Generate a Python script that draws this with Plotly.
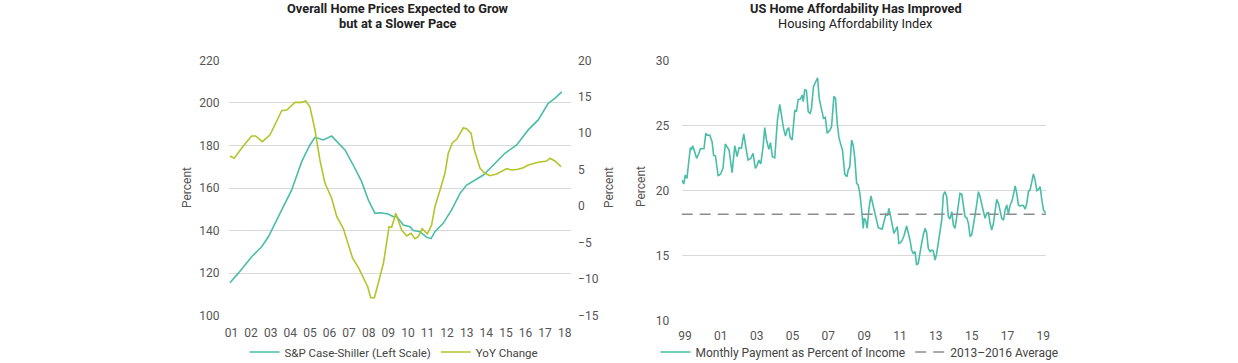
import plotly.graph_objects as go

# ---------------- Left chart data ----------------
sp_years = [2000.92, 2001.35, 2002.03, 2002.54, 2002.88, 2003.3, 2004.07, 2004.58, 2005.0, 2005.26,
            2005.68, 2006.11, 2006.54, 2006.79, 2007.21, 2007.64, 2007.98, 2008.32, 2008.58, 2009.0,
            2009.26, 2009.43, 2009.77, 2010.1, 2010.28, 2010.62, 2010.96, 2011.18, 2011.38, 2011.8,
            2012.23, 2012.66, 2013.0, 2013.42, 2013.85, 2014.36, 2014.95, 2015.55, 2016.14, 2016.65,
            2017.16, 2017.5, 2017.85]
sp_values = [115.5, 120.0, 127.7, 132.4, 137.1, 145.0, 159.1, 172.4, 180.2, 183.8,
             182.6, 184.4, 180.2, 177.9, 170.8, 163.0, 154.4, 148.1, 148.4, 147.8,
             146.5, 146.5, 142.6, 141.8, 140.0, 139.5, 136.8, 136.2, 139.5, 143.4,
             149.7, 157.5, 161.4, 163.8, 166.1, 170.8, 176.3, 180.2, 187.3, 192.0,
             199.8, 202.1, 205.2]

yoy_years = [2000.92, 2001.14, 2001.6, 2002.03, 2002.23, 2002.57, 2002.96, 2003.3, 2003.56, 2003.82,
             2004.24, 2004.58, 2004.79, 2005.0, 2005.26, 2005.51, 2005.77, 2006.11, 2006.37, 2006.7,
             2006.88, 2007.18, 2007.47, 2007.72, 2007.95, 2008.1, 2008.29, 2008.53, 2008.75, 2009.04,
             2009.17, 2009.38, 2009.68, 2009.94, 2010.16, 2010.36, 2010.53, 2010.73, 2010.99, 2011.21,
             2011.38, 2011.64, 2011.89, 2012.06, 2012.27, 2012.49, 2012.83, 2013.0, 2013.22, 2013.39,
             2013.68, 2013.93, 2014.19, 2014.53, 2015.04, 2015.3, 2015.63, 2015.89, 2016.14, 2016.65,
             2017.08, 2017.25, 2017.5, 2017.81]
yoy_values = [6.89, 6.57, 8.26, 9.63, 9.63, 8.85, 9.76, 11.59, 13.09, 13.19,
              14.24, 14.24, 14.42, 13.64, 10.45, 6.34, 3.14, 1.09, -1.43, -3.02,
              -4.63, -7.13, -8.37, -9.65, -11.03, -12.53, -12.53, -10.1, -7.82, -2.8,
              -2.89, -0.97, -3.26, -4.08, -3.71, -4.45, -4.17, -3.08, -3.8, -2.57,
              -0.06, 2.23, 4.51, 7.26, 8.71, 9.17, 10.76, 10.59, 10.0, 7.71,
              5.2, 4.51, 4.19, 4.42, 5.15, 4.97, 5.06, 5.28, 5.65, 6.02,
              6.2, 6.57, 6.2, 5.42]

left_xtick_years = list(range(2001, 2019))
left_xtick_labels = ["01", "02", "03", "04", "05", "06", "07", "08", "09", "10",
                     "11", "12", "13", "14", "15", "16", "17", "18"]
left_y_ticks = [100, 120, 140, 160, 180, 200, 220]
right_y_ticks = [-15, -10, -5, 0, 5, 10, 15, 20]

# ---------------- Right chart data ----------------
aff_years = [1998.83, 1998.93, 1999.02, 1999.11, 1999.20, 1999.30, 1999.35, 1999.43, 1999.54, 1999.65,
             1999.76, 1999.86, 2000.06, 2000.16, 2000.25, 2000.38, 2000.51, 2000.60, 2000.70, 2000.85,
             2000.99, 2001.12, 2001.25, 2001.37, 2001.46, 2001.63, 2001.78, 2001.91, 2002.02, 2002.15,
             2002.28, 2002.39, 2002.52, 2002.67, 2002.80, 2002.93, 2003.04, 2003.12, 2003.23, 2003.36,
             2003.45, 2003.55, 2003.68, 2003.77, 2003.88, 2004.01, 2004.16, 2004.29, 2004.38, 2004.50,
             2004.61, 2004.70, 2004.79, 2004.87, 2004.98, 2005.13, 2005.22, 2005.32, 2005.45, 2005.54,
             2005.60, 2005.69, 2005.78, 2005.88, 2005.99, 2006.06, 2006.17, 2006.29, 2006.40, 2006.49,
             2006.62, 2006.73, 2006.83, 2006.94, 2007.09, 2007.18, 2007.31, 2007.40, 2007.50, 2007.59,
             2007.68, 2007.79, 2007.92, 2008.04, 2008.11, 2008.20, 2008.30, 2008.39, 2008.48, 2008.58,
             2008.67, 2008.76, 2008.86, 2008.95, 2009.00, 2009.08, 2009.17, 2009.27, 2009.38, 2009.47,
             2009.56, 2009.69, 2009.79, 2009.88, 2010.01, 2010.12, 2010.22, 2010.31, 2010.38, 2010.48,
             2010.57, 2010.66, 2010.76, 2010.85, 2010.94, 2011.04, 2011.13, 2011.22, 2011.37, 2011.46,
             2011.56, 2011.65, 2011.74, 2011.84, 2011.93, 2012.02, 2012.12, 2012.21, 2012.30, 2012.40,
             2012.49, 2012.58, 2012.68, 2012.77, 2012.86, 2012.96, 2013.05, 2013.14, 2013.23, 2013.33,
             2013.42, 2013.51, 2013.61, 2013.70, 2013.79, 2013.89, 2013.98, 2014.07, 2014.17, 2014.26,
             2014.35, 2014.45, 2014.54, 2014.63, 2014.73, 2014.82, 2014.91, 2015.00, 2015.10, 2015.19,
             2015.28, 2015.38, 2015.47, 2015.56, 2015.66, 2015.75, 2015.84, 2015.94, 2016.03, 2016.12,
             2016.22, 2016.31, 2016.40, 2016.50, 2016.59, 2016.68, 2016.78, 2016.87, 2016.96, 2017.05,
             2017.15, 2017.24, 2017.33, 2017.43, 2017.52, 2017.61, 2017.71, 2017.80, 2017.89, 2017.99,
             2018.08, 2018.17, 2018.27, 2018.36, 2018.45, 2018.54, 2018.64, 2018.73, 2018.82, 2018.92,
             2019.01, 2019.10, 2019.14]
aff_values = [20.81, 20.50, 21.19, 20.93, 22.09, 23.29, 23.11, 23.44, 22.98, 22.47,
              22.80, 23.21, 23.21, 24.39, 24.24, 24.26, 23.75, 22.70, 22.65, 21.12,
              21.27, 21.70, 23.57, 23.29, 23.11, 21.37, 23.44, 22.60, 23.29, 23.24,
              24.34, 23.37, 22.34, 22.47, 22.85, 21.70, 21.96, 22.34, 22.04, 23.37,
              24.83, 23.88, 23.16, 23.67, 22.60, 22.52, 25.41, 26.62, 25.67, 24.77,
              24.18, 24.65, 24.83, 24.08, 23.88, 26.18, 26.05, 27.00, 27.03, 27.33,
              26.82, 27.77, 27.67, 26.05, 25.93, 26.31, 27.97, 28.36, 28.66, 27.08,
              26.31, 25.54, 25.62, 24.39, 24.65, 24.90, 27.23, 27.08, 25.16, 24.08,
              23.62, 23.11, 21.24, 21.06, 21.57, 21.83, 23.88, 23.49, 22.47, 20.55,
              20.42, 19.78, 18.50, 17.09, 17.86, 17.73, 17.09, 18.63, 19.58, 19.01,
              18.50, 17.61, 17.15, 17.09, 17.04, 17.68, 18.19, 18.07, 18.63, 17.99,
              17.35, 16.71, 16.97, 17.22, 15.94, 15.99, 16.20, 16.50, 17.27, 16.84,
              16.20, 15.43, 15.17, 15.30, 14.28, 14.41, 15.43, 15.94, 16.58, 17.09,
              16.76, 15.56, 15.30, 15.43, 15.35, 14.66, 15.17, 16.07, 16.58, 17.73,
              19.65, 19.91, 19.53, 17.99, 17.81, 18.37, 17.35, 17.09, 17.99, 18.94,
              19.78, 19.73, 19.01, 17.99, 17.91, 17.48, 16.50, 16.58, 17.35, 17.99,
              18.89, 19.91, 19.53, 18.96, 18.37, 17.86, 18.25, 18.30, 17.48, 16.97,
              17.48, 18.25, 19.32, 19.01, 18.50, 17.86, 17.73, 18.50, 18.89, 18.20,
              18.89, 19.14, 19.65, 20.35, 19.78, 18.89, 18.81, 18.86, 18.83, 18.58,
              19.01, 19.91, 20.09, 20.68, 21.27, 20.81, 19.99, 20.09, 20.29, 19.27,
              18.50, 18.32, 18.32]

avg_2013_2016 = 18.17
avg_span_years = [1998.816, 2019.151]

right_xtick_years = list(range(1999, 2020, 2))
right_xtick_labels = ["99", "01", "03", "05", "07", "09", "11", "13", "15", "17", "19"]
aff_y_ticks = [10, 15, 20, 25, 30]

# ---------------- Styling ----------------
W, H = 1238, 363
TEAL = "#4ABDA9"
LIME = "#B4C42C"
GRAY_DASH = "#8C8C8C"
GRID = "#D9D9D9"
TICK = "#555555"
FONT = "Roboto, 'Open Sans', sans-serif"


def px_x(px):
    return px / W


def px_y(py):
    return 1 - py / H


fig = go.Figure()

fig.add_trace(go.Scatter(x=sp_years, y=sp_values, mode="lines", name="S&P Case-Shiller (Left Scale)",
                         line=dict(color=TEAL, width=1.6), xaxis="x", yaxis="y", legend="legend"))
fig.add_trace(go.Scatter(x=yoy_years, y=yoy_values, mode="lines", name="YoY Change",
                         line=dict(color=LIME, width=1.6), xaxis="x", yaxis="y2", legend="legend"))
fig.add_trace(go.Scatter(x=aff_years, y=aff_values, mode="lines", name="Monthly Payment as Percent of Income",
                         line=dict(color=TEAL, width=1.6), xaxis="x2", yaxis="y3", legend="legend2"))
fig.add_trace(go.Scatter(x=avg_span_years, y=[avg_2013_2016, avg_2013_2016], mode="lines",
                         name="2013\u20132016 Average",
                         line=dict(color=GRAY_DASH, width=1.5, dash="11px,7px"),
                         xaxis="x2", yaxis="y3", legend="legend2"))

tickfont = dict(family=FONT, size=12, color=TICK)

fig.update_layout(
    width=W, height=H,
    margin=dict(l=0, r=0, t=0, b=0, autoexpand=False),
    paper_bgcolor="white", plot_bgcolor="white",
    font=dict(family=FONT, size=12, color=TICK),
    xaxis=dict(domain=[px_x(229), px_x(570.7)], range=[2000.872, 2018.306],
               tickmode="array", tickvals=left_xtick_years, ticktext=left_xtick_labels,
               showgrid=False, zeroline=False, showline=False, automargin=False,
               ticks="outside", ticklen=6, tickcolor="rgba(0,0,0,0)", tickfont=tickfont,
               anchor="y"),
    yaxis=dict(domain=[px_y(315.7), px_y(60.3)], range=[100, 220],
               tickmode="array", tickvals=left_y_ticks,
               showgrid=True, gridcolor=GRID, gridwidth=1, zeroline=False, showline=False,
               automargin=False,
               ticks="outside", ticklen=6, tickcolor="rgba(0,0,0,0)", tickfont=tickfont,
               anchor="x"),
    yaxis2=dict(overlaying="y", side="right", range=[-15, 20],
                tickmode="array", tickvals=right_y_ticks,
                showgrid=False, zeroline=False, showline=False, automargin=False,
                ticks="outside", ticklen=4, tickcolor="rgba(0,0,0,0)", tickfont=tickfont,
                anchor="x"),
    xaxis2=dict(domain=[px_x(681.7), px_x(1046)], range=[1998.816, 2019.151],
                tickmode="array", tickvals=right_xtick_years, ticktext=right_xtick_labels,
                showgrid=False, zeroline=False, showline=False, automargin=False,
                ticks="outside", ticklen=4, tickcolor="rgba(0,0,0,0)", tickfont=tickfont,
                anchor="y3"),
    yaxis3=dict(domain=[px_y(320.7), px_y(60.3)], range=[10, 30],
                tickmode="array", tickvals=aff_y_ticks,
                showgrid=True, gridcolor=GRID, gridwidth=1, zeroline=False, showline=False,
                automargin=False,
                ticks="outside", ticklen=9, tickcolor="rgba(0,0,0,0)", tickfont=tickfont,
                anchor="x2"),
    legend=dict(orientation="h", x=px_x(394), xanchor="center", y=px_y(352), yanchor="middle",
                font=dict(family=FONT, size=11.5, color="#444444"), itemwidth=30,
                bgcolor="rgba(0,0,0,0)"),
    legend2=dict(orientation="h", x=px_x(859.5), xanchor="center", y=px_y(352), yanchor="middle",
                 font=dict(family=FONT, size=12, color="#444444"), itemwidth=30,
                 bgcolor="rgba(0,0,0,0)"),
    showlegend=True,
)

title_font = dict(family=FONT, size=12.8, color="#222222")
annotations = [
    dict(text="<b>Overall Home Prices Expected to Grow</b>",
         x=px_x(397.5), y=px_y(8.9), xref="paper", yref="paper", xanchor="center", yanchor="middle",
         showarrow=False, font=title_font),
    dict(text="<b>but at a Slower Pace</b>",
         x=px_x(397.5), y=px_y(23.3), xref="paper", yref="paper", xanchor="center", yanchor="middle",
         showarrow=False, font=title_font),
    dict(text="<b>US Home Affordability Has Improved</b>",
         x=px_x(855.5), y=px_y(8.9), xref="paper", yref="paper", xanchor="center", yanchor="middle",
         showarrow=False, font=title_font),
    dict(text="Housing Affordability Index",
         x=px_x(855.5), y=px_y(23.3), xref="paper", yref="paper", xanchor="center", yanchor="middle",
         showarrow=False, font=title_font),
    dict(text="Percent", x=px_x(187), y=px_y(188), xref="paper", yref="paper", textangle=-90,
         xanchor="center", yanchor="middle", showarrow=False, font=dict(family=FONT, size=12, color=TICK)),
    dict(text="Percent", x=px_x(609), y=px_y(188), xref="paper", yref="paper", textangle=-90,
         xanchor="center", yanchor="middle", showarrow=False, font=dict(family=FONT, size=12, color=TICK)),
    dict(text="Percent", x=px_x(641), y=px_y(187), xref="paper", yref="paper", textangle=-90,
         xanchor="center", yanchor="middle", showarrow=False, font=dict(family=FONT, size=12, color=TICK)),
]
fig.update_layout(annotations=annotations)

# Remove the browser's default page margin so the figure sits at the window's top-left corner.
fig.write_html("out.html", config={"displayModeBar": False},
               post_script="document.body.style.margin='0px';")
